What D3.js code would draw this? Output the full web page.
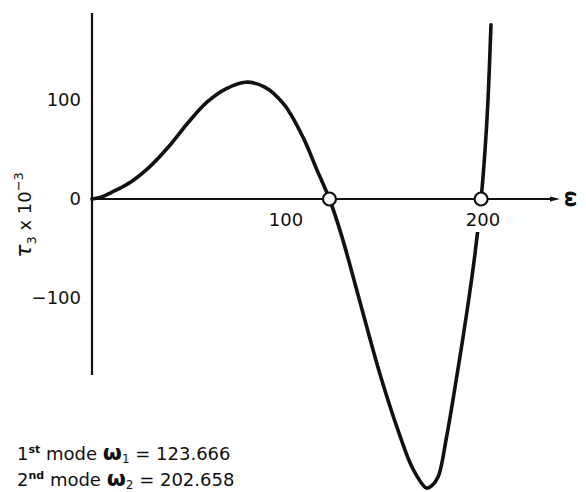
<!DOCTYPE html>
<html>
<head>
<meta charset="utf-8">
<script src="https://cdn.jsdelivr.net/npm/d3@7/dist/d3.min.js"></script>
<style>
  html, body { margin: 0; padding: 0; background: #fff; }
  svg { display: block; }
  text { font-family: "DejaVu Sans", sans-serif; fill: #111; }
</style>
</head>
<body>
<svg id="chart" width="586" height="492"></svg>
<script>
// Torque response tau_3 (x 10^-3) against excitation frequency omega
const omega = [0, 5, 10, 20, 30, 40, 50, 60, 70, 80, 90, 100, 110, 117,
               123.666, 130, 140, 150, 160, 167, 174.3, 177, 180.4, 184.7, 190,
               195.2, 199.5, 202.658, 204.7, 206.25, 207.8];
const tau   = [0, 2, 6.5, 17, 32.5, 53, 77, 98, 111.5, 118, 113, 95.5, 62, 30,
               0, -37, -107, -177, -237, -272, -292, -289.5, -280, -240, -179,
               -115, -55, 0, 49, 100, 176];
// Natural frequencies marked on the axis
const modes = [123.666, 202.658];
const modeLabels = ["1st", "2nd"];
const modeValues = ["123.666", "202.658"];
const xTicks = [100, 200];
const yTicks = [100, 0, -100];

const svg = d3.select("#chart");
const x = d3.scaleLinear().domain([0, 100]).range([92, 284]);
const y = d3.scaleLinear().domain([0, 100]).range([199, 100]);

const ink = "#111";

// axes
svg.append("line").attr("x1", x(0)).attr("x2", x(0))
  .attr("y1", 13).attr("y2", 375)
  .attr("stroke", ink).attr("stroke-width", 2.2);
svg.append("line").attr("x1", x(0)).attr("x2", 555)
  .attr("y1", y(0)).attr("y2", y(0))
  .attr("stroke", ink).attr("stroke-width", 2);
svg.append("path")
  .attr("d", `M550,${y(0) - 2.5} L560,${y(0)} L550,${y(0) + 2.5} Z`)
  .attr("fill", ink);

// response curve
const line = d3.line()
  .x((d, i) => x(omega[i]))
  .y((d, i) => y(tau[i]))
  .curve(d3.curveCatmullRom.alpha(0.5));
svg.append("path")
  .datum(tau)
  .attr("d", line)
  .attr("fill", "none")
  .attr("stroke", ink)
  .attr("stroke-width", 3.6)
  .attr("stroke-linejoin", "round")
  .attr("stroke-linecap", "round");

// y tick labels
svg.selectAll(".ytick").data(yTicks).enter().append("text")
  .attr("class", "ytick")
  .attr("x", 81)
  .attr("y", d => y(d))
  .attr("dy", "0.36em")
  .attr("text-anchor", "end")
  .attr("font-size", 18)
  .text(d => d === -100 ? "\u2212100" : d);

// x tick labels, on a white ground so the curve breaks behind them
const xt = svg.selectAll(".xtick").data(xTicks).enter().append("g")
  .attr("class", "xtick")
  .attr("transform", d => `translate(${x(d) + (d === 200 ? 7 : 2)},${y(0) + 21})`);
xt.append("rect").attr("x", -22).attr("y", -14).attr("width", 44).attr("height", 26).attr("fill", "#fff");
xt.append("text")
  .attr("text-anchor", "middle")
  .attr("dy", "0.36em")
  .attr("font-size", 18)
  .text(d => d);

// root markers
svg.selectAll(".root").data(modes).enter().append("circle")
  .attr("class", "root")
  .attr("cx", d => x(d))
  .attr("cy", y(0))
  .attr("r", 6.5)
  .attr("fill", "#fff")
  .attr("stroke", ink)
  .attr("stroke-width", 2.2);

// x axis name
svg.append("text")
  .attr("transform", `translate(572,${y(0)}) rotate(90)`)
  .attr("text-anchor", "middle")
  .attr("dy", "0.35em")
  .attr("font-size", 19)
  .attr("font-weight", "bold")
  .text("\u03c9");

// y axis name
const yl = svg.append("text")
  .attr("transform", "translate(31,215) rotate(-90)")
  .attr("text-anchor", "middle")
  .attr("font-size", 18);
yl.append("tspan").attr("font-style", "italic").attr("font-size", 22).text("\u03c4");
yl.append("tspan").attr("dy", 5).attr("font-size", 13).text("3");
yl.append("tspan").attr("dy", -5).text(" x 10");
yl.append("tspan").attr("dy", -8).attr("font-size", 13).text("\u22123");

// mode frequencies
modeLabels.forEach((m, i) => {
  const t = svg.append("text")
    .attr("x", 17)
    .attr("y", 460 + i * 26)
    .attr("font-size", 18);
  t.append("tspan").text(m[0]);
  t.append("tspan").attr("dy", -7).attr("font-size", 11).attr("font-weight", "bold").text(m.slice(1));
  t.append("tspan").attr("dy", 7).text(" mode ");
  t.append("tspan").attr("font-weight", "bold").attr("font-size", 22).text("\u03c9");
  t.append("tspan").attr("dy", 3).attr("font-size", 12).text(String(i + 1));
  t.append("tspan").attr("dy", -3).text(" = " + modeValues[i]);
});
</script>
</body>
</html>
